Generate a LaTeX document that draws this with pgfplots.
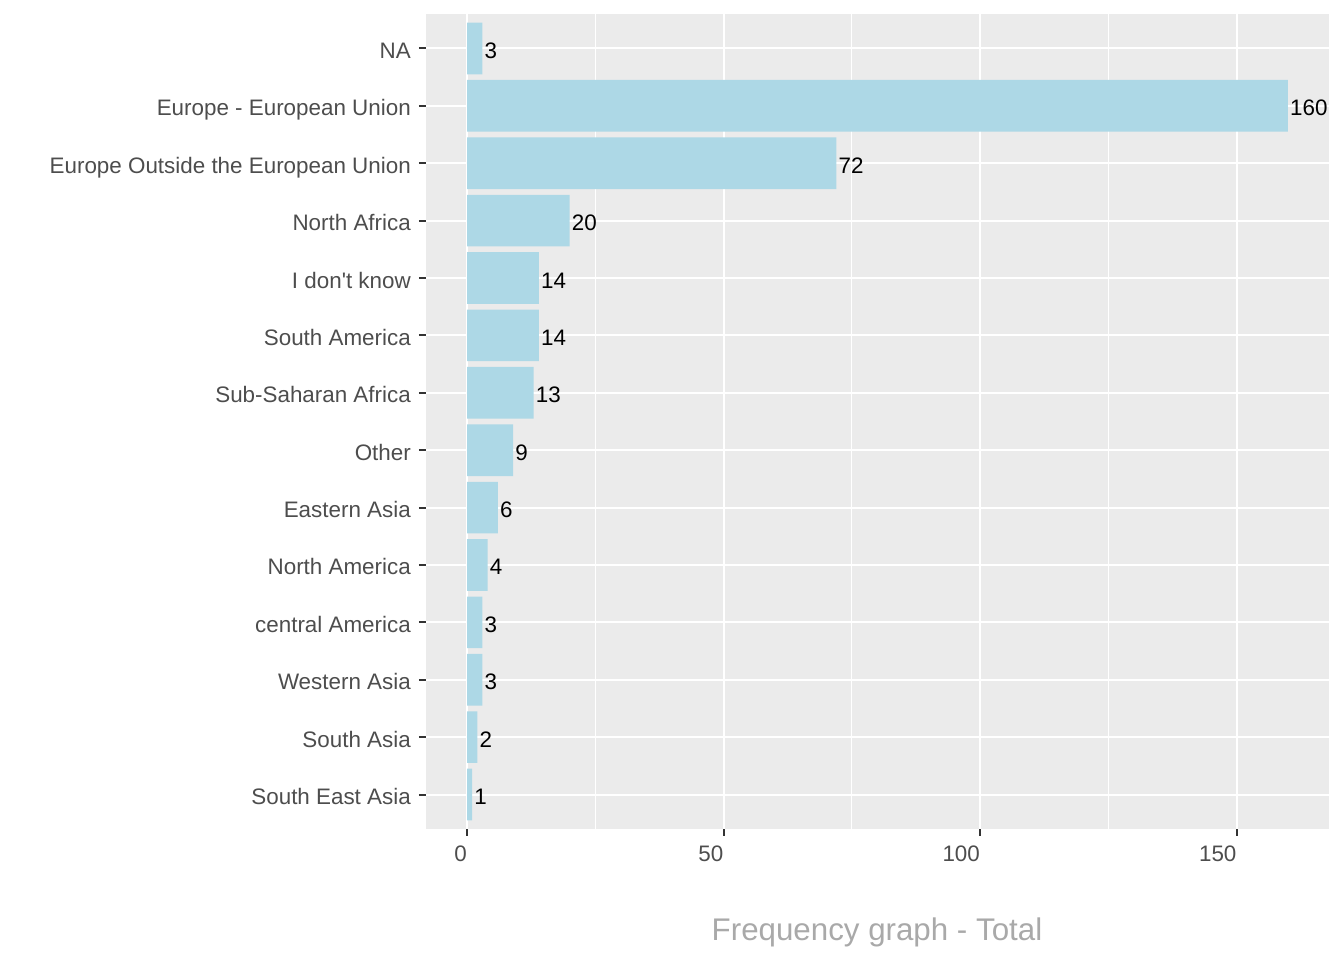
\documentclass[border=0pt]{standalone}
\usepackage{fontspec}
\setmainfont{Liberation Sans}
\usepackage{pgfplots}
\pgfplotsset{compat=1.18}
\definecolor{panelbg}{HTML}{EBEBEB}
\definecolor{barblue}{HTML}{ADD8E6}
\definecolor{ticktext}{HTML}{4D4D4D}
\definecolor{tickmark}{HTML}{333333}
\definecolor{titlegray}{HTML}{A9A9A9}
\begin{document}
\begin{tikzpicture}[x=1pt,y=1pt]
\useasboundingbox (0,0) rectangle (1344,960);
\begin{axis}[
 at={(426pt,131pt)}, anchor=south west,
 scale only axis, width=903pt, height=815pt,
 xmin=-8, xmax=168, ymin=0.4, ymax=14.6,
 xbar, bar width=0.9,
 axis background/.style={fill=panelbg},
 axis line style={draw=none},
 xtick={0,50,100,150}, minor xtick={25,75,125},
 ytick={1,...,14},
 yticklabels={South East Asia, South Asia, Western Asia, central America, North America, Eastern Asia, Other, Sub-Saharan Africa, South America, I don\textquotesingle t know, North Africa, Europe Outside the European Union, Europe - European Union, NA},
 xmajorgrids, ymajorgrids, xminorgrids,
 major grid style={white, line width=2pt},
 minor grid style={white, line width=1pt},
 tick align=outside, xtick pos=left, ytick pos=left,
 major tick length=7pt, minor tick length=0pt,
 tick style={tickmark, line width=2pt},
 ticklabel style={font=\fontsize{22.4}{26}\selectfont, text=ticktext, inner sep=0pt},
 xticklabel style={anchor=north east, yshift=-10pt},
 yticklabel style={anchor=base east, xshift=-8pt, yshift=-10pt},
 /pgf/number format/assume math mode=true,
 nodes near coords,
 nodes near coords style={font=\fontsize{22.4}{26}\selectfont, text=black, anchor=base west, inner sep=2pt, yshift=-10pt},
]
\addplot[fill=barblue, draw=none] coordinates {
(1,1) (2,2) (3,3) (3,4) (4,5) (6,6) (9,7) (13,8) (14,9) (14,10) (20,11) (72,12) (160,13) (3,14)
};
\end{axis}
\node[anchor=base, font=\fontsize{31.3}{37}\selectfont, text=titlegray] at (877,19) {Frequency graph - Total};
\end{tikzpicture}
\end{document}
